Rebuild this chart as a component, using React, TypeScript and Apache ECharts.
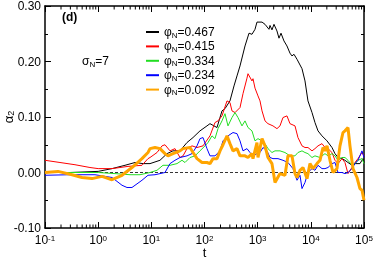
import React, { useEffect, useRef } from "react";
import * as echarts from "echarts";

// log10(t), alpha2 pairs
const phi0467: [number, number][] = [
  [-1, 0], [-0.53, 0], [0, 0.002], [0.26, 0.007], [0.505, 0.013], [0.693, 0.018], [0.843, 0.016],
  [0.975, 0.016], [1.163, 0.022], [1.295, 0.034], [1.407, 0.039], [1.539, 0.039], [1.671, 0.054],
  [1.784, 0.063], [1.915, 0.075], [2.047, 0.084], [2.103, 0.088], [2.235, 0.081], [2.329, 0.111],
  [2.385, 0.115], [2.479, 0.129], [2.555, 0.156], [2.611, 0.174], [2.668, 0.192], [2.762, 0.228],
  [2.837, 0.251], [2.893, 0.249], [2.95, 0.258], [2.987, 0.271], [3.082, 0.271], [3.138, 0.267],
  [3.213, 0.258], [3.232, 0.265], [3.269, 0.257], [3.307, 0.267], [3.363, 0.255], [3.401, 0.242],
  [3.439, 0.251], [3.495, 0.237], [3.551, 0.228], [3.608, 0.215], [3.645, 0.21], [3.683, 0.213],
  [3.74, 0.204], [3.834, 0.187], [3.89, 0.165], [3.946, 0.129], [4.022, 0.108], [4.078, 0.09],
  [4.135, 0.075], [4.21, 0.066], [4.304, 0.057], [4.398, 0.045], [4.454, 0.034], [4.511, 0.027],
  [4.586, 0.025], [4.642, 0.022], [4.699, 0.018], [4.774, 0.013], [4.83, 0.016], [4.924, 0.016],
  [4.981, 0.025], [5.0, 0.018],
];

const phi0415: [number, number][] = [
  [-1, 0.022], [-0.718, 0.018], [-0.436, 0.014], [-0.154, 0.009], [0, 0.007], [0.26, 0.007],
  [0.561, 0.011], [0.824, 0.013], [0.937, 0.025], [0.975, 0.027], [1.107, 0.036], [1.201, 0.048],
  [1.257, 0.05], [1.351, 0.039], [1.445, 0.043], [1.539, 0.027], [1.596, 0.03], [1.671, 0.043],
  [1.765, 0.048], [1.859, 0.045], [1.972, 0.048], [2.103, 0.066], [2.197, 0.09], [2.254, 0.093],
  [2.329, 0.102], [2.423, 0.129], [2.479, 0.126], [2.517, 0.111], [2.574, 0.108], [2.668, 0.117],
  [2.724, 0.142], [2.799, 0.17], [2.818, 0.178], [2.893, 0.165], [2.912, 0.169], [2.95, 0.152],
  [3.006, 0.138], [3.044, 0.129], [3.082, 0.111], [3.138, 0.093], [3.194, 0.088], [3.288, 0.084],
  [3.363, 0.079], [3.42, 0.084], [3.476, 0.099], [3.551, 0.102], [3.608, 0.088], [3.702, 0.084],
  [3.758, 0.063], [3.834, 0.048], [3.89, 0.045], [3.946, 0.045], [4.022, 0.039], [4.078, 0.043],
  [4.135, 0.048], [4.21, 0.052], [4.266, 0.045], [4.323, 0.043], [4.398, 0.036], [4.454, 0.022],
  [4.511, 0.016], [4.586, 0.025], [4.642, 0.018], [4.699, -0.002], [4.774, 0.009], [4.83, 0.018],
  [4.887, 0.025], [4.962, 0.036], [5.0, 0.03],
];

const phi0334: [number, number][] = [
  [-1, 0], [-0.53, 0], [0, 0], [0.317, -0.002], [0.599, -0.004], [0.787, -0.004], [0.975, 0],
  [1.107, 0.004], [1.219, 0.013], [1.351, 0.013], [1.483, 0.016], [1.577, 0.022], [1.633, 0.018],
  [1.727, 0.027], [1.821, 0.03], [1.915, 0.039], [2.009, 0.048], [2.066, 0.054], [2.141, 0.066],
  [2.197, 0.061], [2.254, 0.079], [2.329, 0.093], [2.385, 0.106], [2.442, 0.084], [2.517, 0.099],
  [2.574, 0.108], [2.63, 0.099], [2.705, 0.084], [2.762, 0.093], [2.818, 0.081], [2.893, 0.075],
  [2.95, 0.057], [3.006, 0.061], [3.082, 0.057], [3.138, 0.052], [3.194, 0.043], [3.269, 0.036],
  [3.326, 0.039], [3.42, 0.039], [3.514, 0.036], [3.608, 0.03], [3.702, 0.03], [3.758, 0.036],
  [3.834, 0.039], [3.89, 0.036], [3.946, 0.034], [4.022, 0.027], [4.078, 0.03], [4.172, 0.027],
  [4.266, 0.034], [4.323, 0.03], [4.398, 0.034], [4.454, 0.03], [4.511, 0.022], [4.586, 0.027],
  [4.642, 0.027], [4.699, 0.022], [4.774, 0.013], [4.83, 0.016], [4.887, 0.022], [4.962, 0.025],
  [5.0, 0.016],
];

const phi0234: [number, number][] = [
  [-1, -0.005], [-0.53, -0.004], [-0.06, -0.004], [0.26, -0.009], [0.448, -0.023], [0.542, -0.027],
  [0.636, -0.027], [0.824, -0.014], [0.937, -0.005], [1.069, -0.004], [1.163, -0.002], [1.257, 0],
  [1.351, 0.016], [1.445, 0.022], [1.539, 0.027], [1.671, 0.03], [1.765, 0.034], [1.859, 0.048],
  [1.915, 0.061], [1.972, 0.063], [2.047, 0.043], [2.103, 0.03], [2.197, 0.03], [2.292, 0.039],
  [2.348, 0.057], [2.442, 0.066], [2.536, 0.072], [2.611, 0.07], [2.668, 0.057], [2.724, 0.039],
  [2.799, 0.043], [2.856, 0.036], [2.912, 0.03], [2.987, 0.034], [3.044, 0.036], [3.1, 0.045],
  [3.176, 0.039], [3.232, 0.027], [3.288, 0.025], [3.382, 0.025], [3.476, 0.022], [3.57, 0.018],
  [3.664, 0.007], [3.74, -0.014], [3.796, -0.005], [3.834, -0.029], [3.89, -0.018], [3.946, 0],
  [4.022, 0.007], [4.078, 0.004], [4.135, 0.013], [4.21, 0.007], [4.266, 0.007], [4.323, 0.009],
  [4.398, 0.016], [4.454, 0.018], [4.511, 0], [4.586, 0], [4.642, -0.002], [4.699, 0],
  [4.774, 0.007], [4.83, 0.016], [4.887, 0.022], [4.962, 0.039], [5.0, 0.027],
];

const phi0092: [number, number][] = [
  [-1, 0], [-0.755, 0.002], [-0.492, -0.004], [-0.304, -0.009], [-0.116, -0.011], [0.072, -0.007],
  [0.26, -0.013], [0.448, -0.005], [0.636, 0.009], [0.824, 0.025], [0.937, 0.036], [0.975, 0.043],
  [1.069, 0.045], [1.163, 0.043], [1.257, 0.034], [1.313, 0.03], [1.407, 0.034], [1.539, 0.039],
  [1.596, 0.043], [1.727, 0.045], [1.784, 0.036], [1.859, 0.025], [1.953, 0.018], [2.047, 0.018],
  [2.103, 0.016], [2.16, 0.025], [2.235, 0.025], [2.292, 0.039], [2.348, 0.05], [2.423, 0.066],
  [2.479, 0.052], [2.536, 0.039], [2.611, 0.043], [2.668, 0.03], [2.762, 0.03], [2.818, 0.027],
  [2.893, 0.034], [2.912, 0.025], [2.987, 0.054], [3.006, 0.027], [3.082, 0.061], [3.138, 0.048],
  [3.194, 0.027], [3.269, 0.016], [3.326, -0.018], [3.42, -0.002], [3.514, -0.005], [3.57, 0.03],
  [3.645, 0.03], [3.702, -0.002], [3.74, -0.009], [3.796, 0.004], [3.852, 0.009], [3.928, -0.011],
  [3.984, 0.016], [4.04, 0.007], [4.116, 0.016], [4.172, 0.022], [4.229, 0.045], [4.266, 0.039],
  [4.304, 0.048], [4.36, 0.022], [4.417, 0], [4.492, 0.007], [4.548, 0.048], [4.605, 0.072],
  [4.642, 0.075], [4.699, 0.081], [4.736, 0.048], [4.793, 0.007], [4.868, -0.009], [4.924, -0.029],
  [4.962, -0.032], [5.0, -0.05],
];

const seriesNames = ["0.467", "0.415", "0.334", "0.234", "0.092"];
const seriesColors = ["#000000", "#ff0000", "#22dd22", "#0000ff", "#ffa500"];
const seriesWidths = [1, 1, 1, 1, 3];
const seriesData = [phi0467, phi0415, phi0334, phi0234, phi0092];

const yTicks = [-0.1, 0, 0.1, 0.2, 0.3];
const decades = [-1, 0, 1, 2, 3, 4];
const minorMultipliers = [2, 3, 4, 5, 6, 7, 8, 9];

const FONT = "Liberation Sans, Arial, Helvetica, sans-serif";
const Y_MIN = yTicks[0];
const Y_MAX = yTicks[yTicks.length - 1];

export default function App() {
  const ref = useRef<HTMLDivElement>(null);
  useEffect(() => {
    if (!ref.current) return;
    const chart = echarts.init(ref.current, undefined, { renderer: "svg" });

    const minorData: number[][] = [];
    decades.forEach((d) =>
      minorMultipliers.forEach((m) => minorData.push([m * Math.pow(10, d), 0]))
    );

    const lineSeries = seriesNames.map((n, i) => ({
      name: n,
      type: "line",
      symbol: "none",
      showSymbol: false,
      data: seriesData[i].map(([e, v]) => [Math.pow(10, e), v]),
      lineStyle: { color: seriesColors[i], width: seriesWidths[i] },
      itemStyle: { color: seriesColors[i] },
      z: 3 + i,
    }));

    const xLabel = (v: number) => {
      const e = Math.round(Math.log10(v));
      return `{b|10}{s|${e}}`;
    };

    chart.setOption({
      animation: false,
      grid: { left: 45, right: 10, top: 6, bottom: 30, outerBoundsMode: "none", containLabel: false },
      legend: {
        data: seriesNames.map((n) => ({ name: n, itemStyle: { opacity: 0 } })),
        orient: "vertical",
        left: 140,
        top: 21,
        itemWidth: 13,
        itemHeight: 10,
        itemGap: 1.4,
        selectedMode: false,
        itemStyle: { opacity: 0 },
        formatter: (n: string) => `{p|φ}{s|N}{p|=${n}}`,
        textStyle: {
          color: "#000",
          fontFamily: FONT,
          rich: {
            p: { fontSize: 12, fontFamily: FONT, color: "#000", lineHeight: 14, verticalAlign: "middle" },
            s: { fontSize: 8, fontFamily: FONT, color: "#000", lineHeight: 14, verticalAlign: "bottom" },
          },
        },
      },
      xAxis: [
        {
          type: "log",
          logBase: 10,
          min: 0.1,
          max: 100000,
          name: "t",
          nameLocation: "middle",
          nameGap: 18,
          nameMoveOverlap: false,
          nameTextStyle: { fontFamily: FONT, fontSize: 13, color: "#000", lineHeight: 12 },
          axisLine: { show: true, onZero: false, lineStyle: { color: "#000", width: 1.5 } },
          axisTick: { show: true, inside: true, length: 6, lineStyle: { color: "#000" } },
          minorTick: { show: false },
          splitLine: { show: false },
          axisLabel: {
            formatter: xLabel,
            margin: 6,
            rich: {
              b: { fontSize: 12, fontFamily: FONT, color: "#000", lineHeight: 12, verticalAlign: "bottom" },
              s: { fontSize: 8, fontFamily: FONT, color: "#000", lineHeight: 12, verticalAlign: "top" },
            },
          },
        },
        {
          type: "log",
          logBase: 10,
          min: 0.1,
          max: 100000,
          position: "top",
          axisLine: { show: true, onZero: false, lineStyle: { color: "#000", width: 1.5 } },
          axisTick: { show: true, inside: true, length: 6, lineStyle: { color: "#000" } },
          axisLabel: { show: false },
          splitLine: { show: false },
        },
      ],
      yAxis: [
        {
          type: "value",
          min: Y_MIN,
          max: Y_MAX,
          interval: 0.1,
          name: "{a|α}{s|2}",
          nameLocation: "middle",
          nameRotate: 90,
          nameGap: 30,
          nameMoveOverlap: false,
          nameTextStyle: {
            rich: {
              a: { fontSize: 13, fontFamily: FONT, color: "#000", lineHeight: 14, verticalAlign: "middle" },
              s: { fontSize: 9, fontFamily: FONT, color: "#000", lineHeight: 14, verticalAlign: "bottom" },
            },
          },
          axisLine: { show: true, onZero: false, lineStyle: { color: "#000", width: 1.5 } },
          axisTick: { show: true, inside: true, length: 6, lineStyle: { color: "#000" } },
          minorTick: { show: true, splitNumber: 2, length: 3, lineStyle: { color: "#000" } },
          splitLine: { show: false },
          axisLabel: {
            formatter: (v: number) => v.toFixed(2),
            margin: 4,
            fontSize: 12,
            fontFamily: FONT,
            color: "#000",
          },
        },
        {
          type: "value",
          min: Y_MIN,
          max: Y_MAX,
          interval: 0.1,
          position: "right",
          axisLine: { show: true, onZero: false, lineStyle: { color: "#000", width: 1.5 } },
          axisTick: { show: true, inside: true, length: 6, lineStyle: { color: "#000" } },
          minorTick: { show: true, splitNumber: 2, length: 3, lineStyle: { color: "#000" } },
          axisLabel: { show: false },
          splitLine: { show: false },
        },
      ],
      series: [
        {
          type: "line",
          name: "zero",
          silent: true,
          symbol: "none",
          z: 2,
          data: [],
          markLine: {
            silent: true,
            symbol: ["none", "none"],
            label: { show: false },
            lineStyle: { color: "#000", width: 0.8, type: [3, 2] },
            data: [{ yAxis: 0 }],
          },
        },
        ...lineSeries,
        {
          type: "custom",
          name: "minorTicks",
          silent: true,
          z: 10,
          data: minorData,
          encode: { x: 0, y: 1 },
          renderItem: (params: any, api: any) => {
            const t = api.value(0);
            const b = api.coord([t, Y_MIN]);
            const tp = api.coord([t, Y_MAX]);
            return {
              type: "group",
              children: [
                { type: "line", shape: { x1: b[0], y1: b[1], x2: b[0], y2: b[1] - 3.5 }, style: { stroke: "#000", lineWidth: 1 } },
                { type: "line", shape: { x1: tp[0], y1: tp[1], x2: tp[0], y2: tp[1] + 3.5 }, style: { stroke: "#000", lineWidth: 1 } },
              ],
            };
          },
        },
      ],
      graphic: [
        {
          type: "text",
          left: 62,
          top: 11,
          style: { text: "(d)", fontSize: 12, fontWeight: "bold", fontFamily: FONT, fill: "#000" },
        },
        {
          type: "text",
          left: 82,
          top: 55,
          style: {
            text: "{p|σ}{s|N}{p|=7}",
            rich: {
              p: { fontSize: 12, fontFamily: FONT, fill: "#000", lineHeight: 14, verticalAlign: "middle" },
              s: { fontSize: 8, fontFamily: FONT, fill: "#000", lineHeight: 14, verticalAlign: "bottom" },
            },
          },
        },
      ],
    });
    return () => chart.dispose();
  }, []);
  return <div ref={ref} style={{ position: "fixed", left: 0, top: 0, width: 374, height: 258 }} />;
}
